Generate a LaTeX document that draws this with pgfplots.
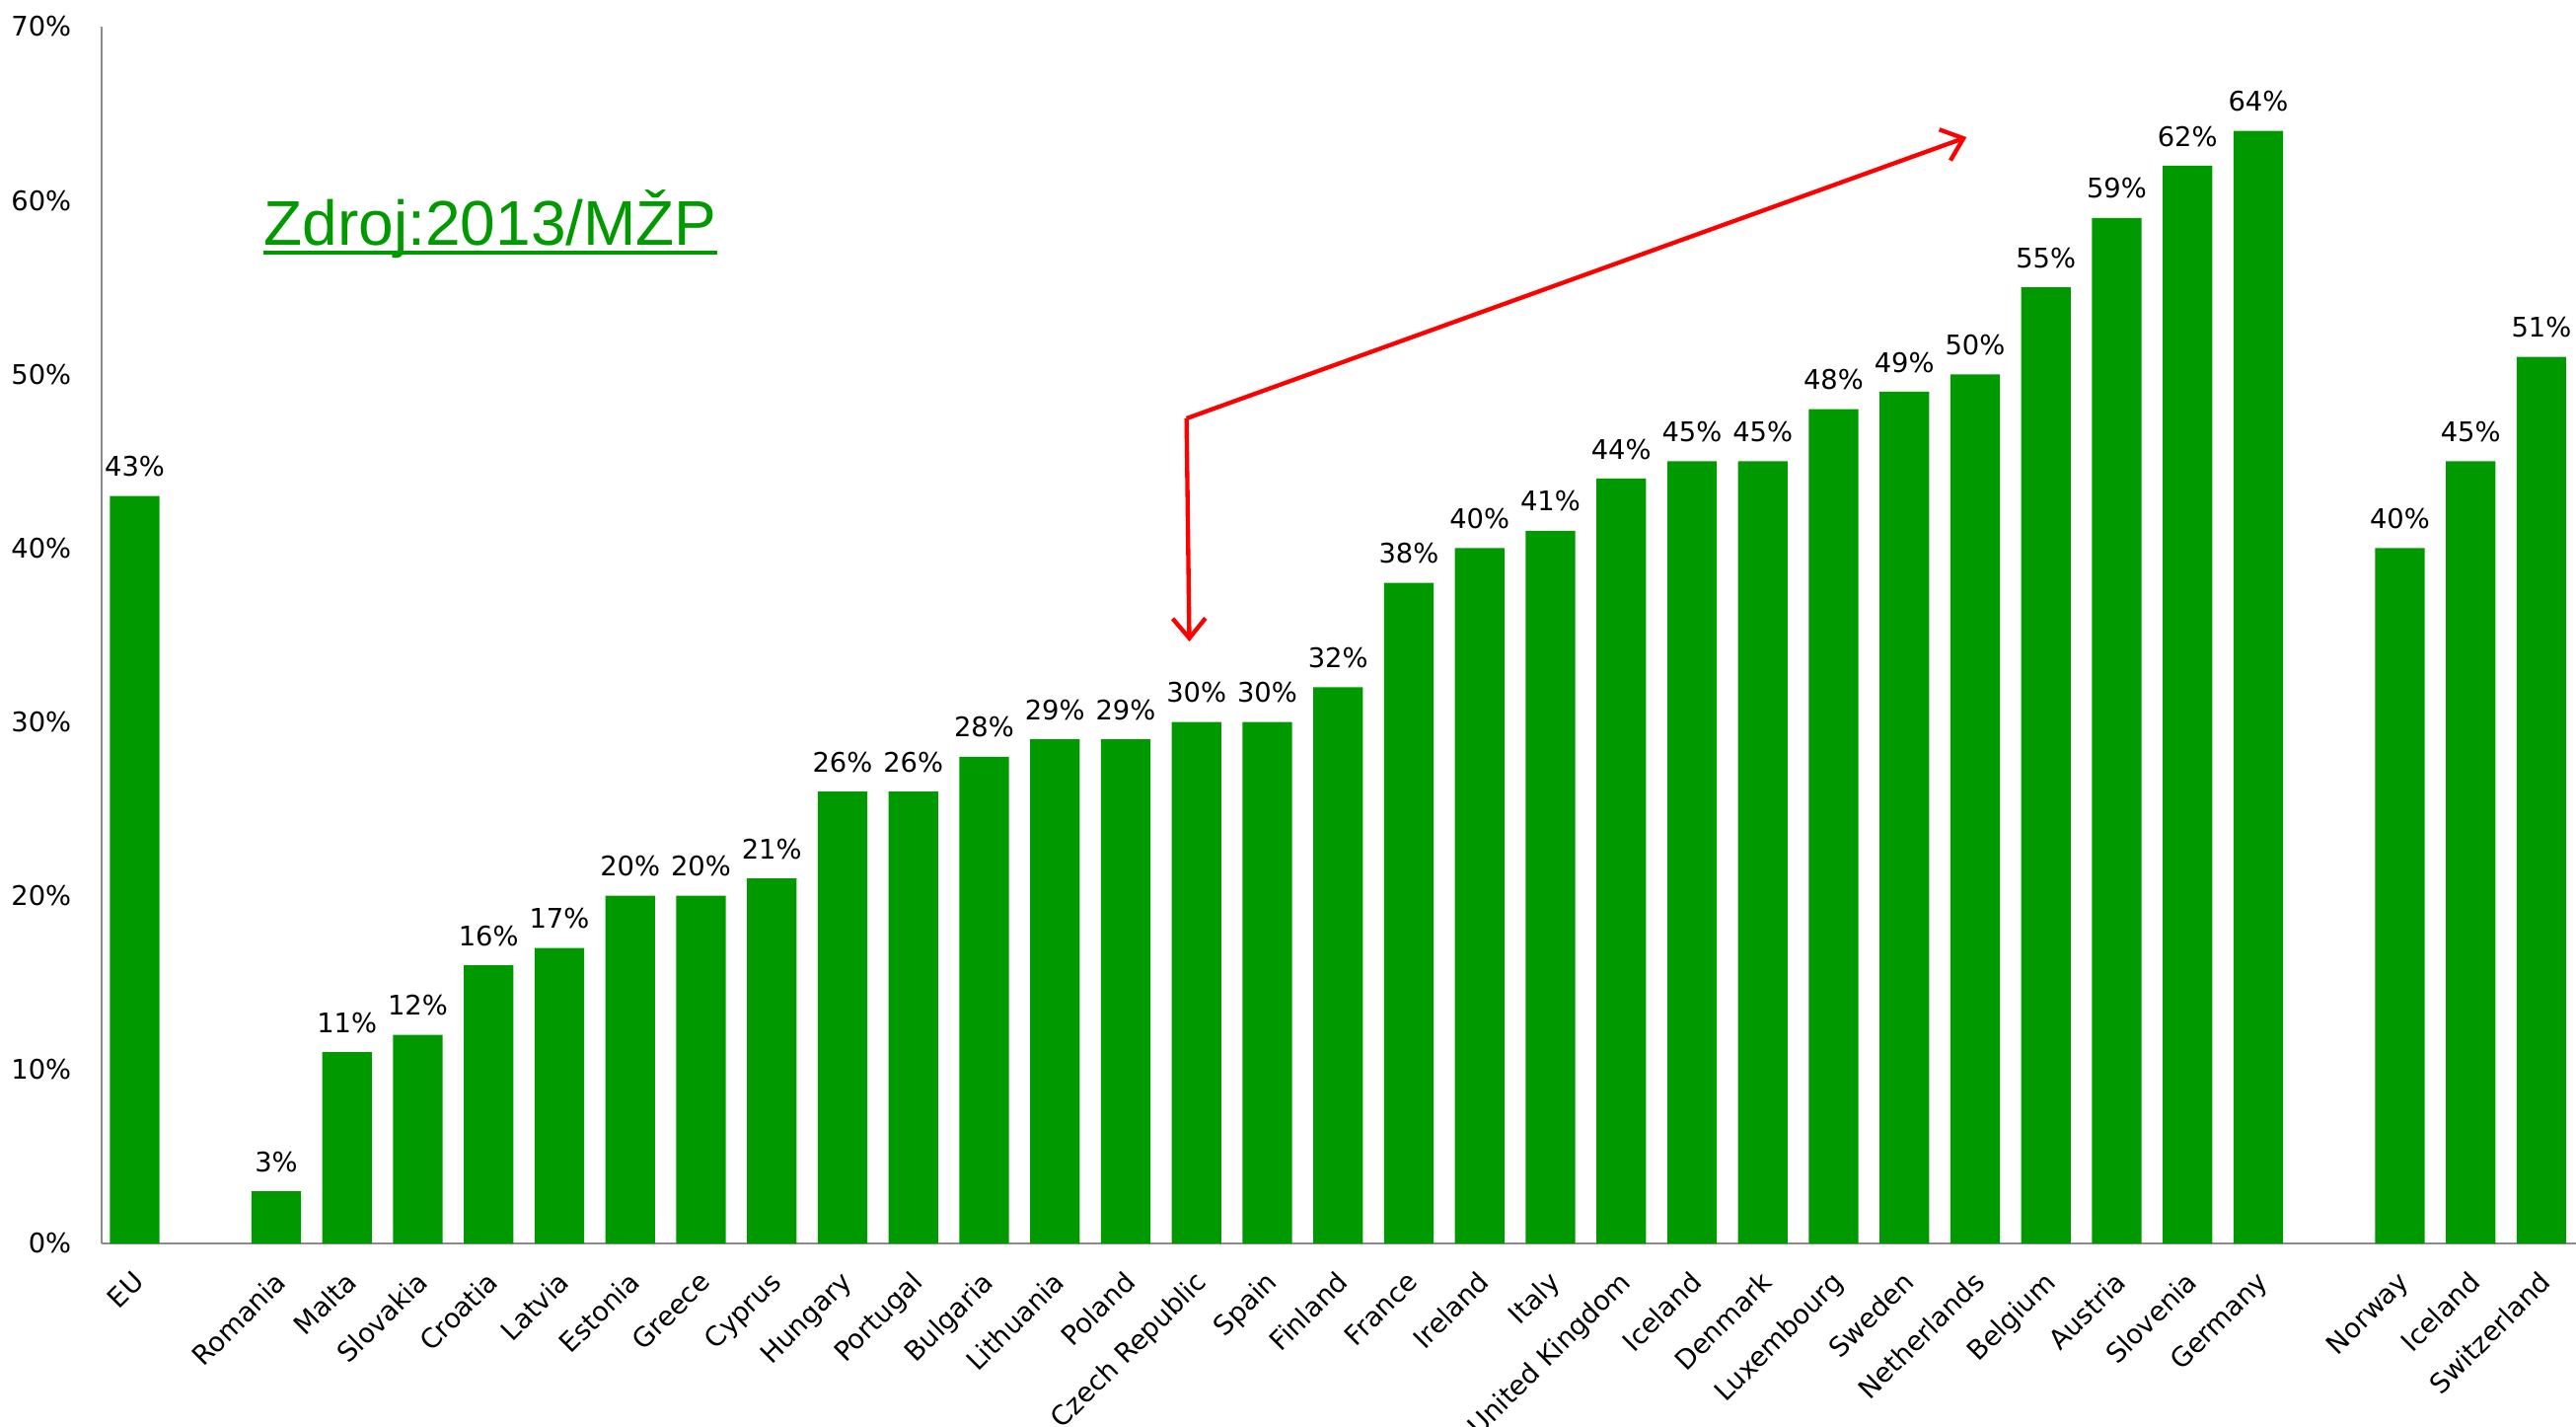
\documentclass[border=0pt]{standalone}
\usepackage{pgfplots}
\pgfplotsset{compat=1.18}
\usepackage{fontspec}
\setmainfont{DejaVu Sans}
\newfontfamily\arialfont{Liberation Sans}
\usetikzlibrary{arrows.meta}
\definecolor{barg}{HTML}{009900}
\definecolor{axg}{HTML}{8C8C8C}

\pgfplotstableread{
x y
0 43
2 3
3 11
4 12
5 16
6 17
7 20
8 20
9 21
10 26
11 26
12 28
13 29
14 29
15 30
16 30
17 32
18 38
19 40
20 41
21 44
22 45
23 45
24 48
25 49
26 50
27 55
28 59
29 62
30 64
32 40
33 45
34 51
}\datatable

\begin{document}
\begin{tikzpicture}
\begin{axis}[
  width=752.4pt, height=369.9pt, scale only axis,
  ybar, bar width=0.7,
  xmin=-0.467, xmax=34.49, ymin=0, ymax=70,
  axis lines*=left,
  axis line style={axg, line width=0.6pt},
  major tick length=0pt,
  ytick={0,10,20,30,40,50,60,70},
  yticklabels={0\%,10\%,20\%,30\%,40\%,50\%,60\%,70\%},
  yticklabel style={font=\fontsize{8.2}{10}\selectfont, xshift=-5.7pt},
  xtick={0,2,3,4,5,6,7,8,9,10,11,12,13,14,15,16,17,18,19,20,21,22,23,24,25,26,27,28,29,30,32,33,34},
  xticklabels={EU,Romania,Malta,Slovakia,Croatia,Latvia,Estonia,Greece,Cyprus,Hungary,Portugal,Bulgaria,Lithuania,Poland,Czech Republic,Spain,Finland,France,Ireland,Italy,United Kingdom,Iceland,Denmark,Luxembourg,Sweden,Netherlands,Belgium,Austria,Slovenia,Germany,Norway,Iceland,Switzerland},
  xticklabel style={font=\fontsize{8.2}{10}\selectfont, anchor=north east, yshift=-3pt, xshift=-1pt, rotate=45},
  /pgf/number format/assume math mode=true,
  nodes near coords={\pgfmathprintnumber{\pgfplotspointmeta}\%},
  every node near coord/.append style={font=\fontsize{8.2}{10}\selectfont, black, yshift=2.3pt},
  clip=false,
]
\addplot[fill=barg, draw=none] table[x=x, y=y] {\datatable};
\coordinate (O) at (rel axis cs:0,0);
\coordinate (T) at (rel axis cs:1,1);
\node[anchor=base west, inner sep=0pt, text=barg, font=\arialfont\fontsize{19.2}{22}\selectfont] (Z) at (axis cs:1.82,57.45) {Zdroj:2013/MŽP};
\draw[barg, line width=1.2pt] ([yshift=-2.4pt]Z.base west) -- ([yshift=-2.4pt]Z.base east);
\draw[red, line width=1.3pt, -{Straight Barb[length=6pt, width=10pt]}] (axis cs:14.86,47.46) -- (axis cs:25.88,63.64);
\draw[red, line width=1.3pt, -{Straight Barb[length=6pt, width=10pt]}] (axis cs:14.86,47.46) -- (axis cs:14.9,34.63);
\end{axis}
\pgfresetboundingbox
\useasboundingbox ([xshift=-30.9pt,yshift=-55.5pt]O) rectangle ([yshift=8.1pt]T);
\end{tikzpicture}
\end{document}
